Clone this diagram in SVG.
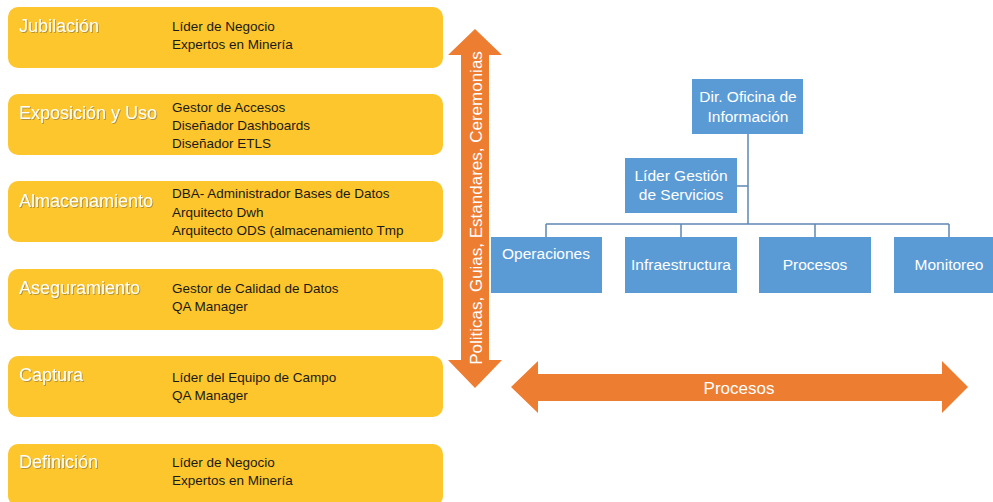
<svg xmlns="http://www.w3.org/2000/svg" width="993" height="502" viewBox="0 0 993 502">
<defs>
<filter id="sh" x="-10%" y="-30%" width="120%" height="160%">
<feDropShadow dx="1" dy="1" stdDeviation="0.6" flood-color="#7a6a40" flood-opacity="0.55"/>
</filter>
<style>
.yb{fill:#FDC62C;}
.tt{font-family:"Liberation Sans",Arial,sans-serif;font-size:18px;fill:#ffffff;filter:url(#sh);}
.rt{font-family:"Liberation Sans",Arial,sans-serif;font-size:13.5px;fill:#1a1a1a;}
.bb{fill:#5B9BD5;}
.bt{font-family:"Liberation Sans",Arial,sans-serif;font-size:15.5px;fill:#ffffff;text-anchor:middle;}
.ar{fill:#ED7D31;}
.at{font-family:"Liberation Sans",Arial,sans-serif;font-size:17px;fill:#ffffff;text-anchor:middle;}
.cn{stroke:#5E86B4;stroke-width:1.5;fill:none;}
</style>
</defs>
<rect width="993" height="502" fill="#ffffff"/>

<g id="jubilacion">
<rect class="yb" x="8" y="7" width="435" height="61" rx="10"/>
<text class="tt" x="19" y="32">Jubilación</text>
<text class="rt" x="172" y="31">Líder de Negocio</text>
<text class="rt" x="172" y="49">Expertos en Minería</text>
</g>
<g id="exposicion">
<rect class="yb" x="8" y="94" width="435" height="61" rx="10"/>
<text class="tt" x="19" y="119">Exposición y Uso</text>
<text class="rt" x="172" y="112">Gestor de Accesos</text>
<text class="rt" x="172" y="130">Diseñador Dashboards</text>
<text class="rt" x="172" y="148">Diseñador ETLS</text>
</g>
<g id="almacenamiento">
<rect class="yb" x="8" y="181" width="435" height="61" rx="10"/>
<text class="tt" x="19" y="207">Almacenamiento</text>
<text class="rt" x="172" y="198">DBA- Administrador Bases de Datos</text>
<text class="rt" x="172" y="217">Arquitecto Dwh</text>
<text class="rt" x="172" y="235">Arquitecto ODS (almacenamiento Tmp</text>
</g>
<g id="aseguramiento">
<rect class="yb" x="8" y="269" width="435" height="61" rx="10"/>
<text class="tt" x="19" y="294">Aseguramiento</text>
<text class="rt" x="172" y="293">Gestor de Calidad de Datos</text>
<text class="rt" x="172" y="311">QA Manager</text>
</g>
<g id="captura">
<rect class="yb" x="8" y="356" width="435" height="61" rx="10"/>
<text class="tt" x="19" y="381">Captura</text>
<text class="rt" x="172" y="382">Líder del Equipo de Campo</text>
<text class="rt" x="172" y="400">QA Manager</text>
</g>
<g id="definicion">
<rect class="yb" x="8" y="444" width="435" height="62" rx="10"/>
<text class="tt" x="19" y="468">Definición</text>
<text class="rt" x="172" y="467">Líder de Negocio</text>
<text class="rt" x="172" y="485">Expertos en Minería</text>
</g>

<g id="arrow-vertical">
<polygon class="ar" points="475,29 502,55 489,55 489,360 502,360 475,388 448,360 461,360 461,55 448,55"/>
<text class="at" transform="translate(482,208) rotate(-90)" x="0" y="0">Politicas, Guias, Estandares, Ceremonias</text>
</g>

<g id="arrow-horizontal">
<polygon class="ar" points="511,387 538,361 538,374 942,374 942,361 968,387 942,413 942,401 538,401 538,413"/>
<text class="at" x="739" y="394">Procesos</text>
</g>

<g id="connectors">
<path class="cn" d="M748,134 V224 M737,186 H748 M546,224 H949 M546,224 V237 M681,224 V237 M815,224 V237 M949,224 V237"/>
</g>

<g id="dir">
<rect class="bb" x="692" y="79" width="111" height="55"/>
<text class="bt" x="748" y="102">Dir. Oficina de</text>
<text class="bt" x="748" y="122">Información</text>
</g>
<g id="lider-gestion">
<rect class="bb" x="625" y="158" width="112" height="55"/>
<text class="bt" x="681" y="181">Líder Gestión</text>
<text class="bt" x="681" y="200">de Servicios</text>
</g>
<g id="operaciones">
<rect class="bb" x="491" y="237" width="111" height="56"/>
<text class="bt" x="546" y="259">Operaciones</text>
</g>
<g id="infraestructura">
<rect class="bb" x="625" y="237" width="112" height="56"/>
<text class="bt" x="681" y="270">Infraestructura</text>
</g>
<g id="procesos">
<rect class="bb" x="759" y="237" width="112" height="56"/>
<text class="bt" x="815" y="270">Procesos</text>
</g>
<g id="monitoreo">
<rect class="bb" x="894" y="237" width="112" height="56"/>
<text class="bt" x="949" y="270">Monitoreo</text>
</g>
</svg>
